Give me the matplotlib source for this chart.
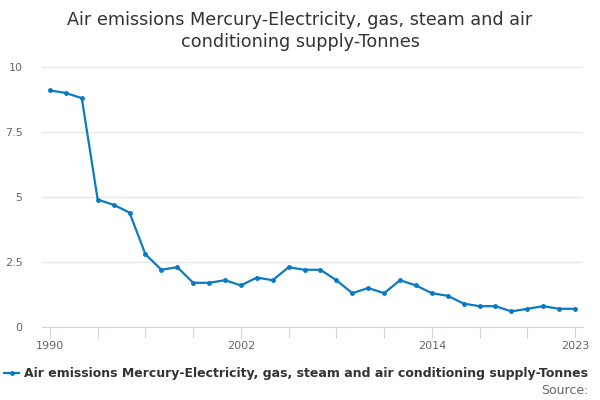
import matplotlib
matplotlib.use('Agg')
import matplotlib.pyplot as plt
from matplotlib.lines import Line2D

years = list(range(1990, 2024))
tonnes = [9.1, 9.0, 8.8, 4.9, 4.7, 4.4, 2.8, 2.2, 2.3, 1.7,
          1.7, 1.8, 1.6, 1.9, 1.8, 2.3, 2.2, 2.2, 1.8, 1.3,
          1.5, 1.3, 1.8, 1.6, 1.3, 1.2, 0.9, 0.8, 0.8, 0.6,
          0.7, 0.8, 0.7, 0.7]
yticks = [0, 2.5, 5, 7.5, 10]
ytick_labels = ['0', '2.5', '5', '7.5', '10']
xlabel_years = [1990, 2002, 2014, 2023]
series_name = 'Air emissions Mercury-Electricity, gas, steam and air conditioning supply-Tonnes'

plt.rcParams['font.family'] = ['DejaVu Sans']
fig = plt.figure(figsize=(6, 4), dpi=100)
ax = fig.add_axes([42/600, 1 - 327/400, (583 - 42)/600, (327 - 67)/400])

line_col = '#0a7bc2'
ax.plot(years, tonnes, color=line_col, linewidth=1.6, marker='o', markersize=2.5, zorder=3)

ax.set_ylim(0, 10)
ax.set_xlim(1989.5, 2023.5)
ax.set_yticks(yticks)
ax.set_yticklabels(ytick_labels)
ax.grid(axis='y', color='#e6e6e6', linewidth=1)
ax.set_axisbelow(True)

tick_pos = list(range(1990, 2021, 3)) + [2023]
ax.set_xticks(tick_pos)
ax.set_xticklabels([str(y) if y in xlabel_years else '' for y in tick_pos])
ax.tick_params(axis='x', length=8, color='#ccd6eb', labelsize=8, labelcolor='#666666', pad=2)
ax.tick_params(axis='y', length=0, labelsize=8, labelcolor='#666666', pad=14)

for s in ['top', 'right', 'left']:
    ax.spines[s].set_visible(False)
ax.spines['bottom'].set_color('#ccd6eb')

fig.text(0.5, 1 - 31/400, 'Air emissions Mercury-Electricity, gas, steam and air\nconditioning supply-Tonnes',
         ha='center', va='center', fontsize=12.7, color='#333333', linespacing=1.3)

handle = Line2D([], [], color=line_col, linewidth=1.6, marker='o', markersize=2.5)
fig.legend([handle], [series_name], loc='center', bbox_to_anchor=(296/600, 1 - 374/400),
           frameon=False, handlelength=1.2, handletextpad=0.4, borderpad=0, borderaxespad=0,
           prop={'size': 9, 'weight': 'bold'}, labelcolor='#333333')
fig.text(588/600, 1 - 391/400, 'Source:', ha='right', va='center', fontsize=9, color='#666666')

fig.savefig('out.png', dpi=100)
